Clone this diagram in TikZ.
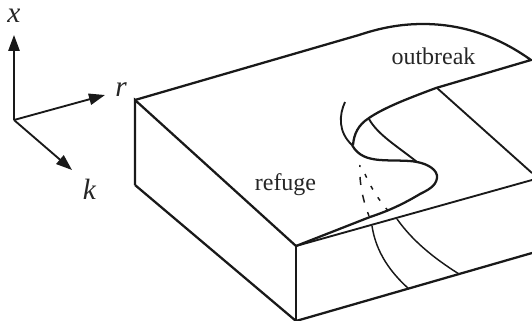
\documentclass[tikz,border=0pt]{standalone}
\usepackage{fontspec}
\setmainfont{Liberation Serif}
\usetikzlibrary{arrows.meta}
\tikzset{
  thick line/.style={line width=1.7pt,line join=miter,color=black!90},
  mid line/.style={line width=1.4pt,color=black!90},
  thin line/.style={line width=1.1pt,color=black!90},
  dash line/.style={line width=1.1pt,color=black!90},
  axis/.style={line width=1.4pt,color=black!90,-{Triangle[length=12pt,width=8.5pt]}},
  lab/.style={font=\fontsize{18pt}{20pt}\selectfont,color=black!85,inner sep=0pt},
  vlab/.style={font=\fontsize{22pt}{24pt}\selectfont\itshape,color=black!85,inner sep=0pt}
}
\begin{document}
\begin{tikzpicture}[x=0.75pt,y=-0.75pt]
\useasboundingbox (0,0) rectangle (532,321);
% axes
\coordinate (o) at (14,120);
\coordinate (xt) at (14,35);
\coordinate (rt) at (105,95);
\coordinate (kt) at (72,170);
\draw[axis] (o) -- (xt);
\draw[axis] (o) -- (rt);
\draw[axis] (o) -- (kt);
\node[vlab] (xl) at (14,16) {x};
\node[vlab] (rl) at (121,90) {r};
\node[vlab] (kl) at (89.5,189) {k};
% box
\coordinate (a) at (135,100);
\coordinate (b) at (296,246);
\coordinate (c) at (296,321);
\coordinate (d) at (135,185);
\coordinate (e) at (532,180);
\coordinate (f) at (532,253);
\coordinate (tip) at (531,60);
\draw[thick line] (d) -- (a) -- (b);
\draw[mid line] (b) -- (c);
\draw[thick line] (d) -- (296,321);
\draw[thick line] (c) -- (f);
\draw[mid line] (b) -- (e);
% top surface outline
\draw[thick line] (a) -- (359,35)
  .. controls (380,28) and (400,24) .. (423,24)
  .. controls (465,24) and (500,38) .. (tip)
  -- (436,88)
  .. controls (412,97) and (385,107) .. (369,118)
  .. controls (358,125) and (354,134) .. (353,145);
% S-fold
\draw[thick line] (352,145) .. controls (358,156) and (368,159) .. (380,160)
  .. controls (394,161) and (408,160) .. (417,162)
  .. controls (428,164) and (438,170) .. (437,178)
  .. controls (436,186) and (428,190) .. (420,194)
  .. controls (400,206) and (385,212) .. (370,217)
  -- (b);
% fold edge
\draw[mid line] (345,102) .. controls (339,115) and (338,132) .. (352,145);
% lines under
\draw[mid line] (369,119) .. controls (378,135) and (397,146) .. (417,162);
\draw[mid line] (437,88) -- (532,173);
% dashed
\draw[dash line,dash pattern=on 1.5pt off 7.5pt on 6pt off 7.5pt on 6pt off 7.5pt on 3pt off 40pt] (360,165) .. controls (359,180) and (362,198) .. (369,216);
\draw[dash line,dash pattern=on 3pt off 7pt] (365,174) .. controls (371,188) and (381,204) .. (393,216);
% front face lines
\draw[thin line] (372,226) .. controls (376,252) and (390,272) .. (409,289);
\draw[thin line] (397,219) .. controls (412,240) and (432,257) .. (459,274);
\node[lab] (refuge) at (285.5,185) {refuge};
\node[lab] (outbreak) at (433.5,56) {outbreak};
\end{tikzpicture}
\end{document}
